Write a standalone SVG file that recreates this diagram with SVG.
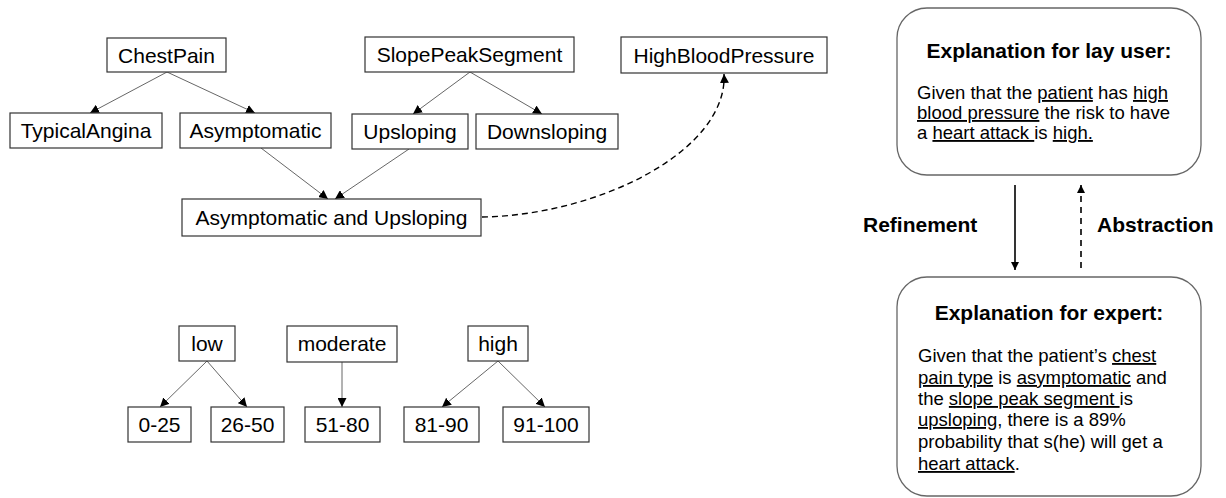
<svg xmlns="http://www.w3.org/2000/svg" width="1226" height="498" viewBox="0 0 1226 498">
<style>
.box{fill:#fff;stroke:#333;stroke-width:1.2}
.lbl{font-family:"Liberation Sans",Arial,sans-serif;font-size:21px;fill:#000;text-anchor:middle}
.edge{stroke:#555;stroke-width:0.9;fill:none;marker-end:url(#ah)}
.dash{stroke:#000;stroke-width:1.4;fill:none;stroke-dasharray:6 4;marker-end:url(#ah)}
.panel{fill:#fff;stroke:#666;stroke-width:1.3}
.ttl{font-family:"Liberation Sans",Arial,sans-serif;font-size:21px;font-weight:bold;fill:#000}
.txt{font-family:"Liberation Sans",Arial,sans-serif;font-size:18.5px;fill:#000}
.u{text-decoration:underline}
</style>
<defs>
<marker id="ah" viewBox="0 0 10 10" refX="10" refY="5" markerWidth="9" markerHeight="9" markerUnits="userSpaceOnUse" orient="auto">
<path d="M0,0 L10,5 L0,10 z" fill="#000"/>
</marker>
<marker id="ah2" viewBox="0 0 10 10" refX="10" refY="5" markerWidth="8" markerHeight="8" markerUnits="userSpaceOnUse" orient="auto">
<path d="M0,0 L10,5 L0,10 z" fill="#000"/>
</marker>
</defs>

<g id="connectors">
<line class="edge" x1="167" y1="72" x2="90" y2="113"/>
<line class="edge" x1="167" y1="72" x2="255" y2="113"/>
<line class="edge" x1="470" y1="72" x2="413" y2="114"/>
<line class="edge" x1="470" y1="72" x2="542" y2="114"/>
<line class="edge" x1="261" y1="148" x2="328" y2="199"/>
<line class="edge" x1="409" y1="149" x2="335" y2="199"/>
<path class="dash" d="M482,217 C600,215 728,150 724,74"/>
<line class="edge" x1="207" y1="361" x2="160" y2="407"/>
<line class="edge" x1="207" y1="361" x2="247" y2="407"/>
<line class="edge" x1="342" y1="362" x2="342" y2="407"/>
<line class="edge" x1="498" y1="361" x2="442" y2="407"/>
<line class="edge" x1="498" y1="361" x2="545" y2="407"/>
<line x1="1015" y1="185" x2="1015" y2="270" stroke="#000" stroke-width="1.6" marker-end="url(#ah2)"/>
<line x1="1081" y1="268" x2="1081" y2="185" stroke="#000" stroke-width="1.6" stroke-dasharray="6 5" marker-end="url(#ah2)"/>
</g>

<g id="ChestPain"><rect class="box" x="107" y="38" width="119" height="34"/><text class="lbl" x="166.5" y="62.5">ChestPain</text></g>
<g id="TypicalAngina"><rect class="box" x="10" y="113" width="152" height="35"/><text class="lbl" x="86" y="138">TypicalAngina</text></g>
<g id="Asymptomatic"><rect class="box" x="180" y="113" width="151" height="35"/><text class="lbl" x="255.5" y="138">Asymptomatic</text></g>
<g id="SlopePeakSegment"><rect class="box" x="365" y="37" width="209" height="35"/><text class="lbl" x="469.5" y="62">SlopePeakSegment</text></g>
<g id="HighBloodPressure"><rect class="box" x="621" y="37" width="206" height="36"/><text class="lbl" x="724" y="62.5">HighBloodPressure</text></g>
<g id="Upsloping"><rect class="box" x="352" y="114" width="116" height="35"/><text class="lbl" x="410" y="139">Upsloping</text></g>
<g id="Downsloping"><rect class="box" x="476" y="114" width="142" height="35"/><text class="lbl" x="547" y="139">Downsloping</text></g>
<g id="AsymptomaticAndUpsloping"><rect class="box" x="182" y="199" width="299" height="37"/><text class="lbl" x="331.5" y="225">Asymptomatic and Upsloping</text></g>

<g id="low"><rect class="box" x="179" y="326" width="56" height="35"/><text class="lbl" x="207" y="351">low</text></g>
<g id="moderate"><rect class="box" x="287" y="326" width="110" height="36"/><text class="lbl" x="342" y="351">moderate</text></g>
<g id="high"><rect class="box" x="468" y="326" width="60" height="35"/><text class="lbl" x="498" y="351">high</text></g>
<g id="r0-25"><rect class="box" x="128" y="407" width="63" height="35"/><text class="lbl" x="159.5" y="432">0-25</text></g>
<g id="r26-50"><rect class="box" x="211" y="407" width="73" height="35"/><text class="lbl" x="247.5" y="432">26-50</text></g>
<g id="r51-80"><rect class="box" x="305" y="407" width="75" height="35"/><text class="lbl" x="342.5" y="432">51-80</text></g>
<g id="r81-90"><rect class="box" x="404" y="407" width="75" height="35"/><text class="lbl" x="441.5" y="432">81-90</text></g>
<g id="r91-100"><rect class="box" x="503" y="407" width="86" height="35"/><text class="lbl" x="546" y="432">91-100</text></g>

<g id="LayExplanation">
<rect class="panel" x="897" y="8" width="304" height="167" rx="30" ry="30"/>
<text class="ttl" x="1049" y="58" text-anchor="middle">Explanation for lay user:</text>
<text class="txt" x="917" y="99">Given that the <tspan class="u">patient</tspan> has <tspan class="u">high</tspan></text>
<text class="txt" x="917" y="119"><tspan class="u">blood pressure</tspan> the risk to have</text>
<text class="txt" x="917" y="139">a <tspan class="u">heart attack </tspan>is <tspan class="u">high.</tspan></text>
</g>

<g id="Refinement"><text class="ttl" x="863" y="232">Refinement</text></g>
<g id="Abstraction"><text class="ttl" x="1097" y="232">Abstraction</text></g>

<g id="ExpertExplanation">
<rect class="panel" x="897" y="277" width="304" height="219" rx="30" ry="30"/>
<text class="ttl" x="1049" y="320" text-anchor="middle">Explanation for expert:</text>
<text class="txt" x="918" y="362">Given that the patient’s <tspan class="u">chest</tspan></text>
<text class="txt" x="918" y="384"><tspan class="u">pain type</tspan> is <tspan class="u">asymptomatic</tspan> and</text>
<text class="txt" x="918" y="405">the <tspan class="u">slope peak segment </tspan>is</text>
<text class="txt" x="918" y="426"><tspan class="u">upsloping</tspan>, there is a 89%</text>
<text class="txt" x="918" y="448">probability that s(he) will get a</text>
<text class="txt" x="918" y="470"><tspan class="u">heart attack</tspan>.</text>
</g>
</svg>
